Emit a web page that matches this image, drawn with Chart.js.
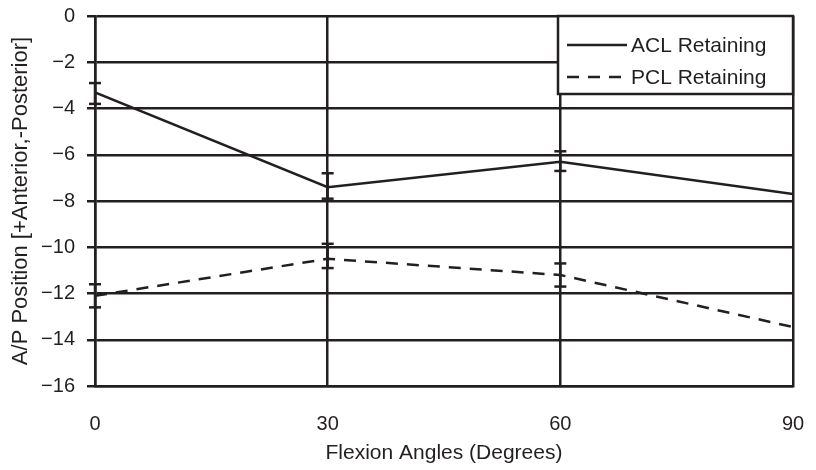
<!DOCTYPE html>
<html>
<head>
<meta charset="utf-8">
<script src="https://cdn.jsdelivr.net/npm/chart.js"></script>
<style>
  html, body { margin: 0; padding: 0; background: #fff; }
  #wrap { width: 816px; height: 470px; }
</style>
</head>
<body>
<div id="wrap"><canvas id="chart" width="816" height="470"></canvas></div>
<script>
const angles = [0, 30, 60, 90];
const aclMean = [-3.3, -7.4, -6.3, -7.7];
const aclHigh = [-2.9, -6.8, -5.85, null];
const aclLow = [-3.8, -7.9, -6.7, null];
const pclMean = [-12.1, -10.5, -11.2, -13.45];
const pclHigh = [-11.6, -9.85, -10.7, null];
const pclLow = [-12.6, -10.9, -11.7, null];
const yTicks = [0, -2, -4, -6, -8, -10, -12, -14, -16];

const ink = '#231f20';
const family = 'Liberation Sans, Arial, sans-serif';
const tickFont = { family, size: 20 };
const titleFont = { family, size: 21 };

const errorBars = {
  id: 'errorBars',
  afterDatasetsDraw(chart) {
    const { ctx, scales: { x, y } } = chart;
    const sets = [[aclHigh, aclLow], [pclHigh, pclLow]];
    ctx.save();
    ctx.strokeStyle = ink;
    ctx.lineWidth = 2.5;
    sets.forEach(([hi, lo]) => {
      angles.forEach((a, i) => {
        if (hi[i] == null) return;
        const px = x.getPixelForValue(a);
        [hi[i], lo[i]].forEach(v => {
          const py = y.getPixelForValue(v);
          ctx.beginPath();
          ctx.moveTo(px - 6, py);
          ctx.lineTo(px + 6, py);
          ctx.stroke();
        });
        ctx.beginPath();
        ctx.moveTo(px, y.getPixelForValue(hi[i]));
        ctx.lineTo(px, y.getPixelForValue(lo[i]));
        ctx.stroke();
      });
    });
    ctx.restore();
  }
};

const boxLegend = {
  id: 'boxLegend',
  afterDraw(chart) {
    const { ctx, chartArea: ca } = chart;
    const left = ca.right - 235, top = ca.top, bottom = ca.top + 78;
    ctx.save();
    ctx.fillStyle = '#fff';
    ctx.fillRect(left, top, ca.right - left, bottom - top);
    ctx.strokeStyle = ink;
    ctx.lineWidth = 2.5;
    ctx.strokeRect(left, top, ca.right - left, bottom - top);
    ctx.font = '21px ' + family;
    ctx.fillStyle = ink;
    ctx.textBaseline = 'middle';
    const rows = [['ACL Retaining', []], ['PCL Retaining', [12, 9]]];
    rows.forEach(([label, dash], i) => {
      const cy = top + 29 + i * 32;
      ctx.setLineDash(dash);
      ctx.lineWidth = 2.5;
      ctx.beginPath();
      ctx.moveTo(left + 9, cy);
      ctx.lineTo(left + 69, cy);
      ctx.stroke();
      ctx.setLineDash([]);
      ctx.fillText(label, left + 73, cy + 1);
    });
    ctx.restore();
  }
};

new Chart(document.getElementById('chart'), {
  type: 'line',
  data: {
    datasets: [
      {
        label: 'ACL Retaining',
        data: angles.map((a, i) => ({ x: a, y: aclMean[i] })),
        borderColor: ink, borderWidth: 2.5, pointRadius: 0, tension: 0
      },
      {
        label: 'PCL Retaining',
        data: angles.map((a, i) => ({ x: a, y: pclMean[i] })),
        borderColor: ink, borderWidth: 2.5, borderDash: [12, 9], pointRadius: 0, tension: 0
      }
    ]
  },
  options: {
    responsive: false,
    animation: false,
    layout: { padding: { top: 16, right: 23, left: 0, bottom: 0 } },
    plugins: { legend: { display: false }, tooltip: { enabled: false } },
    scales: {
      x: {
        type: 'linear', min: 0, max: 90,
        afterBuildTicks: s => { s.ticks = angles.map(v => ({ value: v })); },
        grid: { color: ink, lineWidth: 2.5, drawTicks: false },
        border: { color: ink, width: 2.5 },
        ticks: { color: ink, font: tickFont, padding: 26 },
        title: { display: true, text: 'Flexion Angles (Degrees)', color: ink, font: titleFont, padding: { top: 6 } },
        afterFit: s => { s.height = 84; s.paddingLeft = 0; s.paddingRight = 0; }
      },
      y: {
        min: -16, max: 0,
        afterBuildTicks: s => { s.ticks = yTicks.map(v => ({ value: v })); },
        grid: { color: ink, lineWidth: 2.5, tickLength: 8 },
        border: { color: ink, width: 2.5 },
        ticks: { color: ink, font: tickFont, padding: 12, callback: v => String(v).replace('-', '\u2212') },
        title: { display: true, text: 'A/P Position [+Anterior,-Posterior]', color: ink, font: { family, size: 22 }, padding: { top: 8, bottom: 4 } },
        afterFit: s => { s.width = 95; s.paddingTop = 0; s.paddingBottom = 0; }
      }
    }
  },
  plugins: [errorBars, boxLegend]
});
</script>
</body>
</html>
